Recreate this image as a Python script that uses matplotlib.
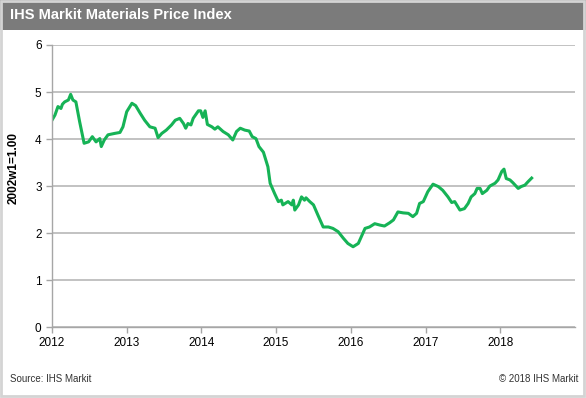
import matplotlib
matplotlib.use("Agg")
import matplotlib.pyplot as plt
from matplotlib.patches import Rectangle

# materials price index (decimal year, index value)
dates = [2012.00, 2012.04, 2012.08, 2012.12, 2012.14, 2012.17, 2012.22, 2012.25,
         2012.28, 2012.32, 2012.37, 2012.43, 2012.49, 2012.54, 2012.59, 2012.64,
         2012.66, 2012.70, 2012.75, 2012.84, 2012.91, 2012.95, 2013.00, 2013.07,
         2013.12, 2013.18, 2013.24, 2013.31, 2013.38, 2013.42, 2013.47, 2013.53,
         2013.60, 2013.65, 2013.71, 2013.76, 2013.79, 2013.82, 2013.86, 2013.89,
         2013.96, 2013.99, 2014.02, 2014.05, 2014.08, 2014.14, 2014.18, 2014.22,
         2014.29, 2014.36, 2014.42, 2014.47, 2014.52, 2014.58, 2014.64, 2014.68,
         2014.73, 2014.77, 2014.83, 2014.89, 2014.92, 2014.98, 2015.03, 2015.07,
         2015.09, 2015.16, 2015.21, 2015.23, 2015.25, 2015.30, 2015.34, 2015.38,
         2015.40, 2015.45, 2015.50, 2015.56, 2015.63, 2015.70, 2015.76, 2015.83,
         2015.90, 2015.96, 2016.03, 2016.10, 2016.14, 2016.19, 2016.25, 2016.32,
         2016.39, 2016.45, 2016.52, 2016.57, 2016.63, 2016.70, 2016.77, 2016.83,
         2016.88, 2016.92, 2016.97, 2017.03, 2017.10, 2017.17, 2017.23, 2017.30,
         2017.35, 2017.39, 2017.46, 2017.52, 2017.57, 2017.61, 2017.66, 2017.69,
         2017.73, 2017.76, 2017.82, 2017.86, 2017.93, 2017.97, 2018.02, 2018.05,
         2018.08, 2018.13, 2018.17, 2018.24, 2018.28, 2018.33, 2018.37, 2018.42]
values = [4.40, 4.51, 4.69, 4.65, 4.74, 4.79, 4.83, 4.95,
          4.83, 4.79, 4.37, 3.91, 3.94, 4.05, 3.94, 4.01,
          3.84, 3.98, 4.09, 4.12, 4.14, 4.26, 4.58, 4.76,
          4.71, 4.55, 4.40, 4.26, 4.23, 4.03, 4.12, 4.19,
          4.30, 4.40, 4.44, 4.33, 4.23, 4.33, 4.30, 4.44,
          4.60, 4.60, 4.46, 4.60, 4.31, 4.26, 4.21, 4.26,
          4.16, 4.09, 3.98, 4.16, 4.23, 4.19, 4.17, 4.05,
          4.01, 3.84, 3.72, 3.41, 3.06, 2.84, 2.67, 2.70,
          2.60, 2.67, 2.60, 2.70, 2.49, 2.60, 2.77, 2.70,
          2.75, 2.67, 2.60, 2.38, 2.13, 2.13, 2.10, 2.03,
          1.89, 1.78, 1.71, 1.78, 1.92, 2.10, 2.13, 2.20,
          2.17, 2.15, 2.22, 2.28, 2.45, 2.43, 2.42, 2.35,
          2.42, 2.63, 2.67, 2.88, 3.04, 2.99, 2.91, 2.77,
          2.65, 2.67, 2.49, 2.52, 2.63, 2.77, 2.84, 2.95,
          2.95, 2.84, 2.91, 3.00, 3.06, 3.13, 3.31, 3.36,
          3.16, 3.13, 3.07, 2.95, 2.99, 3.02, 3.09, 3.17]

year_ticks = [2012, 2013, 2014, 2015, 2016, 2017, 2018]
y_ticks = [0, 1, 2, 3, 4, 5, 6]

plt.rcParams['font.family'] = ['Liberation Sans', 'DejaVu Sans']

fig = plt.figure(figsize=(5.86, 3.98), dpi=100)

# grey title band and light outer frame
fig.patches.append(Rectangle((0, 0.925), 1, 0.075, transform=fig.transFigure,
                             facecolor='#7b7b7b', edgecolor='none', zorder=0))
fig.patches.append(Rectangle((0.002, 0.004), 0.994, 0.994, transform=fig.transFigure,
                             facecolor='none', edgecolor='#d4d4d4', linewidth=2, zorder=1))
fig.text(0.017, 0.962, 'IHS Markit Materials Price Index', color='white',
         fontsize=10.5, fontweight='bold', va='center', ha='left')

ax = fig.add_axes([0.0887, 0.178, 0.8925, 0.709])
ax.plot(dates, values, color='#16b356', linewidth=2.2, solid_joinstyle='round')

ax.set_xlim(2012, 2019)
ax.set_ylim(0, 6)
ax.set_xticks(year_ticks)
ax.set_xticklabels([str(y) for y in year_ticks])
ax.set_yticks(y_ticks)
ax.grid(axis='y', color='#bdbdbd', linewidth=1.3)
ax.set_axisbelow(True)

for s in ['top', 'right']:
    ax.spines[s].set_visible(False)
for s in ['left', 'bottom']:
    ax.spines[s].set_color('#a6a6a6')
    ax.spines[s].set_linewidth(1.0)
ax.tick_params(axis='both', colors='#a6a6a6', labelcolor='black', labelsize=8.5,
               length=4, width=1)
ax.tick_params(axis='x', pad=3)

ax.set_ylabel('2002w1=1.00', fontsize=8.5, fontweight='bold')
ax.yaxis.set_label_coords(-0.062, 0.564)

fig.text(0.017, 0.047, 'Source: IHS Markit', fontsize=7, color='#333333', va='center')
fig.text(0.987, 0.047, '\u00a9 2018 IHS Markit', fontsize=7, color='#333333',
         va='center', ha='right')

fig.savefig('out.png', dpi=100)
